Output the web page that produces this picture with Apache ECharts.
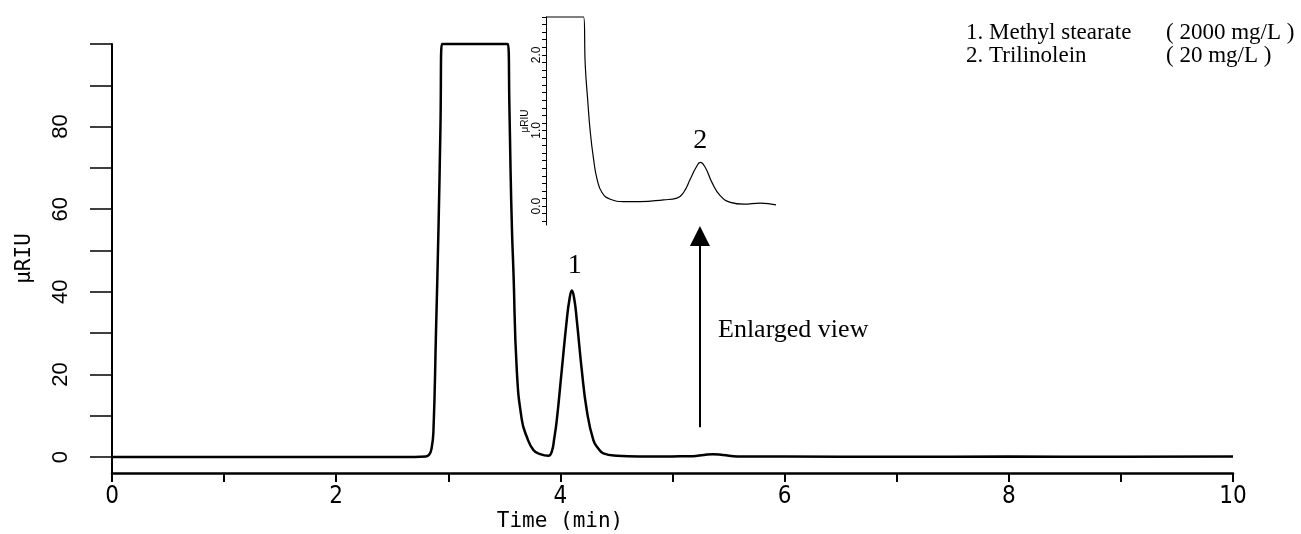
<!DOCTYPE html>
<html>
<head>
<meta charset="utf-8">
<script src="https://cdn.jsdelivr.net/npm/echarts@6/dist/echarts.min.js"></script>
<style>
  html, body { margin: 0; padding: 0; background: #fff; }
  #chart { width: 1301px; height: 534px; }
</style>
</head>
<body>
<div id="chart"></div>
<script>
// main chromatogram (min, uRIU)
var mainTime = [0, 1, 2, 2.7, 2.8, 2.83, 2.85, 2.867, 2.89, 2.913, 2.93, 2.943, 3.2, 3.531,
  3.545, 3.555, 3.568, 3.581, 3.611, 3.656, 3.7, 3.759, 3.82, 3.893, 3.923, 3.945, 3.968,
  4.012, 4.057, 4.08, 4.102, 4.125, 4.146, 4.191, 4.235, 4.294, 4.34, 4.383, 4.503, 4.7,
  5.0, 5.18, 5.28, 5.36, 5.45, 5.58, 6, 7, 8, 9, 10];
var mainSignal = [0, 0, 0, 0, 0.1, 0.6, 2, 6, 30, 56, 80, 100, 100, 100,
  85, 70, 55, 45, 21, 9, 4.9, 1.7, 0.7, 0.3, 1.3, 4.5, 9,
  21, 33.2, 38, 40.3, 38, 33.2, 21, 11.4, 4.1, 2, 0.9, 0.3, 0.1,
  0.15, 0.2, 0.5, 0.7, 0.5, 0.15, 0.1, 0.05, 0.1, 0.05, 0.1];

// enlarged view
var insetTime = [3.87, 4.205, 4.22, 4.241, 4.265, 4.294, 4.325, 4.369, 4.443, 4.562, 4.71,
  4.918, 5.037, 5.096, 5.156, 5.207, 5.245, 5.29, 5.35, 5.424, 5.513, 5.631, 5.78, 5.92];
var insetSignal = [2.5, 2.5, 1.86, 1.415, 0.975, 0.62, 0.357, 0.18, 0.09, 0.06, 0.06,
  0.083, 0.106, 0.18, 0.357, 0.51, 0.578, 0.51, 0.31, 0.136, 0.05, 0.026, 0.04, 0.017];

var xTicks = [0, 1, 2, 3, 4, 5, 6, 7, 8, 9, 10];
var xLabels = [0, 2, 4, 6, 8, 10];
var yTicks = [0, 10, 20, 30, 40, 50, 60, 70, 80, 90, 100];
var yLabels = [0, 20, 40, 60, 80];
var insetLabels = [0, 1, 2];
var insetTicks = [];
for (var k = -2; k <= 25; k++) insetTicks.push(k / 10);

var peak1 = [4.102, 40.3];
var peak2 = [5.245, 0.578];
var arrowFrom = [5.245, 7.2];
var arrowTo = [5.245, 53.5];

function zip(a, b) {
  return a.map(function (v, i) { return [v, b[i]]; });
}

var serif = '"Liberation Serif", "Times New Roman", serif';
var narrow = '"Liberation Sans Narrow", "DejaVu Sans Condensed", "Liberation Sans", sans-serif';

var chart = echarts.init(document.getElementById('chart'));
var option = {
  animation: false,
  grid: [
    { left: 112, right: 68, top: 44, bottom: 61 },
    { left: 546, width: 230, top: 17, height: 208 }
  ],
  xAxis: [
    {
      gridIndex: 0, type: 'value', min: 0, max: 10,
      axisLine: { onZero: false, lineStyle: { color: '#000', width: 2.5 } },
      axisTick: { customValues: xTicks, length: 9, lineStyle: { color: '#000', width: 2 } },
      axisLabel: {
        customValues: xLabels, margin: 12,
        color: '#000', fontSize: 24, fontFamily: narrow
      },
      splitLine: { show: false }
    },
    {
      gridIndex: 1, type: 'value', min: 3.87, max: 5.92, show: false
    }
  ],
  yAxis: [
    {
      gridIndex: 0, type: 'value', min: -3.87, max: 100,
      name: 'μRIU', nameLocation: 'middle', nameGap: 77,
      nameTextStyle: { color: '#000', fontSize: 21, fontFamily: '"DejaVu Sans Mono", monospace' },
      axisLine: { onZero: false, lineStyle: { color: '#000', width: 2 } },
      axisTick: { customValues: yTicks, length: 22, lineStyle: { color: '#000', width: 1.5 } },
      axisLabel: {
        customValues: yLabels, rotate: 90, margin: 40,
        color: '#000', fontSize: 22, fontFamily: '"Liberation Sans", Arial, sans-serif'
      },
      splitLine: { show: false }
    },
    {
      gridIndex: 1, type: 'value', min: -0.25, max: 2.5,
      name: 'μRIU', nameLocation: 'middle', nameGap: 10,
      nameTextStyle: { color: '#000', fontSize: 10, fontFamily: '"Liberation Sans", sans-serif' },
      axisLine: { onZero: false, lineStyle: { color: '#000', width: 1 } },
      axisTick: { customValues: insetTicks, length: 4, lineStyle: { color: '#000', width: 1 } },
      axisLabel: {
        customValues: insetLabels, rotate: 90, margin: 3,
        color: '#000', fontSize: 12, fontFamily: '"Liberation Sans", sans-serif',
        formatter: function (v) { return v.toFixed(1); }
      },
      splitLine: { show: false }
    }
  ],
  series: [
    {
      type: 'line', xAxisIndex: 0, yAxisIndex: 0,
      data: zip(mainTime, mainSignal),
      showSymbol: false, smooth: 0.5, clip: false,
      lineStyle: { color: '#000', width: 2.5 },
      markPoint: {
        symbolSize: 0, silent: true,
        label: { show: true, formatter: '1', offset: [3, -25], color: '#000', fontSize: 28, fontFamily: serif },
        data: [{ coord: peak1 }]
      },
      markLine: {
        silent: true, symbol: ['none', 'triangle'], symbolSize: 20,
        label: { show: false },
        lineStyle: { color: '#000', width: 2, type: 'solid' },
        data: [[{ coord: arrowFrom }, { coord: arrowTo }]]
      }
    },
    {
      type: 'line', xAxisIndex: 1, yAxisIndex: 1,
      data: zip(insetTime, insetSignal),
      showSymbol: false, smooth: 0.5, clip: false,
      lineStyle: { color: '#000', width: 1.2 },
      markPoint: {
        symbolSize: 0, silent: true,
        label: { show: true, formatter: '2', offset: [0, -22], color: '#000', fontSize: 28, fontFamily: serif },
        data: [{ coord: peak2 }]
      }
    }
  ],
  graphic: [
    { type: 'text', x: 560, y: 522, style: { text: 'Time (min)', fill: '#000', font: '21px "DejaVu Sans Mono", monospace', align: 'center', verticalAlign: 'middle' } },
    { type: 'text', x: 718, y: 330, style: { text: 'Enlarged view', fill: '#000', font: '26px ' + serif, verticalAlign: 'middle' } },
    { type: 'text', x: 966, y: 33, style: { text: '1. Methyl stearate', fill: '#000', font: '23px ' + serif, verticalAlign: 'middle' } },
    { type: 'text', x: 1166, y: 33, style: { text: '( 2000 mg/L )', fill: '#000', font: '23px ' + serif, verticalAlign: 'middle' } },
    { type: 'text', x: 966, y: 56, style: { text: '2. Trilinolein', fill: '#000', font: '23px ' + serif, verticalAlign: 'middle' } },
    { type: 'text', x: 1166, y: 56, style: { text: '( 20 mg/L )', fill: '#000', font: '23px ' + serif, verticalAlign: 'middle' } }
  ]
};
chart.setOption(option);
</script>
</body>
</html>
